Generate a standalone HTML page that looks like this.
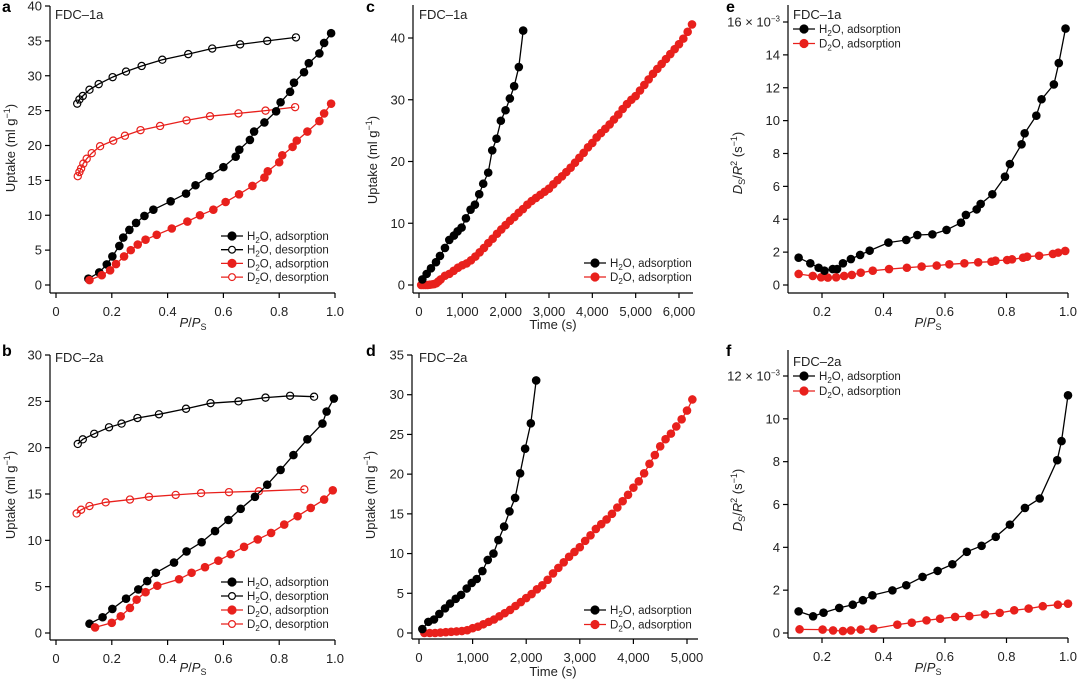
<!DOCTYPE html>
<html><head><meta charset="utf-8">
<style>
html,body{margin:0;padding:0;background:#fff;}
svg{display:block;font-family:"Liberation Sans",Arial,sans-serif;}
</style></head>
<body>
<svg id="fig" width="1080" height="683" viewBox="0 0 1080 683" xmlns="http://www.w3.org/2000/svg"></svg>
<script>
// ---- Panel a data (FDC-1a isotherm) ----
const aH2OadsX=[.116,.155,.182,.202,.227,.241,.263,.287,.317,.349,.411,.466,.5,.55,.6,.644,.657,.695,.71,.747,.789,.805,.839,.853,.889,.906,.944,.961,.986];
const aH2OadsY=[.9,1.8,2.95,4.1,5.6,6.8,7.9,8.9,9.9,10.8,12.0,13.1,14.3,15.6,16.9,18.4,19.4,20.8,22.0,23.3,24.9,26.2,27.7,29.0,30.5,31.8,33.2,34.7,36.1];
const aH2OdesX=[.076,.084,.096,.12,.153,.203,.251,.307,.381,.474,.56,.66,.757,.86];
const aH2OdesY=[26.0,26.6,27.1,28.0,28.8,29.8,30.6,31.4,32.3,33.1,33.9,34.5,35.0,35.5];
const aD2OadsX=[.12,.164,.194,.215,.244,.268,.293,.321,.361,.415,.471,.516,.564,.608,.656,.704,.747,.759,.8,.811,.848,.863,.901,.944,.961,.986];
const aD2OadsY=[.7,1.4,2.1,3.0,4.1,5.0,5.8,6.5,7.2,8.1,9.1,10.0,10.8,11.9,13.0,14.2,15.4,16.3,17.6,18.6,19.8,20.7,22.0,23.5,24.6,26.0];
const aD2OdesX=[.078,.084,.09,.098,.11,.128,.158,.205,.247,.303,.373,.468,.552,.654,.751,.857];
const aD2OdesY=[15.6,16.2,16.7,17.4,18.1,18.9,19.9,20.7,21.4,22.2,22.8,23.6,24.2,24.6,25.0,25.5];
// ---- Panel b data (FDC-2a isotherm) ----
const bH2OadsX=[.12,.167,.202,.251,.295,.327,.358,.423,.468,.522,.57,.618,.662,.713,.757,.805,.851,.901,.955,.97,.996];
const bH2OadsY=[1.0,1.7,2.6,3.7,4.7,5.6,6.5,7.6,8.8,9.8,11.0,12.2,13.4,14.7,16.0,17.6,19.2,20.9,22.6,23.9,25.3];
const bH2OdesX=[.078,.096,.137,.19,.235,.292,.369,.466,.554,.654,.751,.839,.925];
const bH2OdesY=[20.4,20.9,21.5,22.2,22.6,23.2,23.6,24.2,24.8,25.0,25.4,25.6,25.5];
const bD2OadsX=[.14,.2,.232,.265,.289,.321,.363,.441,.486,.534,.582,.626,.674,.723,.771,.818,.866,.913,.961,.992];
const bD2OadsY=[.6,1.1,1.8,2.7,3.6,4.4,5.1,5.8,6.5,7.1,7.8,8.5,9.3,10.1,10.8,11.7,12.6,13.5,14.4,15.4];
const bD2OdesX=[.074,.09,.12,.178,.265,.333,.429,.52,.62,.727,.89];
const bD2OdesY=[12.9,13.3,13.7,14.1,14.4,14.7,14.9,15.1,15.2,15.3,15.5];
// ---- Panel c data (FDC-1a kinetics) ----
const cH2OT=[77,177,276,392,484,599,699,806,891,983,1083,1190,1290,1390,1482,1597,1690,1789,1889,1997,2097,2196,2304,2404];
const cH2OU=[.9,1.8,2.7,3.7,4.7,6.0,7.3,8.0,8.7,9.3,10.8,12.2,13.0,14.7,16.4,18.2,21.8,23.7,26.6,28.3,30.2,32.2,35.3,41.2];
const cD2OT=[50,100,150,200,250,300,350,400,450,500,600,700,800,900,1000,1100,1200,1300,1400,1500,1600,1700,1800,1900,2000,2100,2200,2300,2400,2500,2600,2700,2800,2900,3000,3100,3200,3300,3400,3500,3600,3700,3800,3900,4000,4100,4200,4300,4400,4500,4600,4700,4800,4900,5000,5100,5200,5300,5400,5500,5600,5700,5800,5900,6000,6100,6200,6300];
const cD2OU=[0,0,0,0,0.05,0.1,0.15,0.3,0.6,0.9,1.5,1.8,2.3,2.8,3.2,3.5,4.0,4.6,5.3,6.0,6.8,7.5,8.3,9.0,9.7,10.4,11.0,11.7,12.3,13.0,13.6,14.1,14.6,15.1,15.6,16.3,17.0,17.6,18.3,19.0,19.8,20.6,21.4,22.3,23.0,23.9,24.6,25.3,26.0,26.8,27.6,28.5,29.3,30.0,30.6,31.5,32.4,33.3,34.2,35.0,35.8,36.6,37.4,38.2,39.0,39.9,41.0,42.2];
// ---- Panel d data (FDC-2a kinetics) ----
const dH2OT=[62,174,280,380,486,579,685,785,890,984,1077,1183,1283,1389,1482,1588,1688,1793,1887,1980,2086,2186];
const dH2OU=[.5,1.4,1.7,2.4,3.1,3.7,4.3,4.8,5.6,6.3,6.8,7.8,9.2,10.0,11.7,13.4,15.3,17.0,20.1,23.2,26.4,31.8];
const dD2OT=[100,200,300,400,500,600,700,800,900,1000,1100,1200,1300,1400,1500,1600,1700,1800,1900,2000,2100,2200,2300,2400,2500,2600,2700,2800,2900,3000,3100,3200,3300,3400,3500,3600,3700,3800,3900,4000,4100,4200,4300,4400,4500,4600,4700,4800,4900,5000,5100];
const dD2OU=[0,0,0,.05,.1,.15,.2,.25,.35,.6,.8,1.1,1.4,1.7,2.1,2.5,2.9,3.4,3.9,4.4,4.9,5.5,6.0,6.7,7.5,8.2,8.9,9.6,10.2,10.8,11.6,12.3,13.1,13.7,14.3,15.0,15.8,16.6,17.4,18.3,19.1,20.1,21.3,22.4,23.5,24.4,25.1,26.0,26.9,28.0,29.4];
// ---- Panel e data (FDC-1a diffusivity, x10^-3) ----
const eH2OX=[.124,.162,.189,.208,.235,.249,.268,.294,.324,.355,.416,.474,.51,.559,.605,.652,.668,.703,.716,.754,.795,.811,.849,.859,.897,.914,.954,.97,.992];
const eH2OY=[1.66,1.32,1.05,.87,.97,.97,1.32,1.58,1.83,2.09,2.58,2.74,3.04,3.08,3.35,3.79,4.26,4.6,4.93,5.52,6.59,7.36,8.56,9.23,10.3,11.3,12.2,13.5,15.6];
const eD2OX=[.124,.17,.197,.219,.246,.272,.297,.326,.365,.418,.476,.524,.573,.614,.663,.708,.751,.764,.802,.818,.854,.867,.906,.951,.968,.991];
const eD2OY=[.67,.55,.47,.45,.47,.55,.61,.75,.87,.97,1.05,1.12,1.18,1.26,1.32,1.38,1.42,1.48,1.52,1.56,1.66,1.72,1.78,1.89,1.97,2.07];
// ---- Panel f data (FDC-2a diffusivity, x10^-3) ----
const fH2OX=[.124,.171,.205,.256,.3,.333,.364,.429,.474,.527,.576,.624,.671,.719,.765,.811,.86,.908,.965,.979,1.0];
const fH2OY=[1.01,.78,.95,1.17,1.32,1.53,1.76,1.99,2.23,2.62,2.9,3.21,3.79,4.07,4.49,5.06,5.84,6.28,8.07,8.96,11.1];
const fD2OX=[.127,.202,.236,.268,.294,.326,.367,.445,.492,.54,.584,.633,.679,.73,.778,.825,.872,.918,.967,1.0];
const fD2OY=[.17,.16,.12,.09,.12,.16,.2,.39,.48,.59,.67,.75,.79,.87,.94,1.06,1.14,1.25,1.32,1.37];
// tick labels
const isoXTicks=[0,0.2,0.4,0.6,0.8,1.0];
const isoXLabels=["0","0.2","0.4","0.6","0.8","1.0"];
const aYTicks=[0,5,10,15,20,25,30,35,40];
const bYTicks=[0,5,10,15,20,25,30];
const cXTicks=[0,1000,2000,3000,4000,5000,6000];
const cXLabels=["0","1,000","2,000","3,000","4,000","5,000","6,000"];
const cYTicks=[0,10,20,30,40];
const dXTicks=[0,1000,2000,3000,4000,5000];
const dXLabels=["0","1,000","2,000","3,000","4,000","5,000"];
const dYTicks=[0,5,10,15,20,25,30,35];
const efXTicks=[0.2,0.4,0.6,0.8,1.0];
const efXLabels=["0.2","0.4","0.6","0.8","1.0"];
const eYTicks=[0,2,4,6,8,10,12,14,16];
const fYTicks=[0,2,4,6,8,10,12];

const NS="http://www.w3.org/2000/svg";
const svg=document.getElementById('fig');
function mk(tag,attrs,parent){const e=document.createElementNS(NS,tag);for(const k in attrs)e.setAttribute(k,attrs[k]);(parent||svg).appendChild(e);return e;}
function lin(d0,d1,r0,r1){return v=>r0+(v-d0)*(r1-r0)/(d1-d0);}
const RED="#e8201c";

function axes(p){
  const g=mk('g',{});
  
  
  const yl=mk('line',{x1:p.ax,y1:p.ayTop,x2:p.ax,y2:p.axY,stroke:'#000','stroke-width':1.2},g);
  
  
  const xl=mk('line',{x1:p.ax,y1:p.axY,x2:p.axRight,y2:p.axY,stroke:'#000','stroke-width':1.2},g);
  
  
  p.yTicks.forEach((v,i)=>{
    const y=p.sy(v);
    const t=mk('line',{x1:p.ax-5,y1:y,x2:p.ax,y2:y,stroke:'#000','stroke-width':1.2},g);
    
    
    const lbl=(p.yTopLabel&&i===p.yTicks.length-1)?p.yTopLabel:String(v);
    const tx=mk('text',{x:p.ax-8,y:y+4.5,'text-anchor':'end','font-size':13,fill:'#222'},g);
    tx.innerHTML=lbl;
    
    
  });
  p.xTicks.forEach((v,i)=>{
    const x=p.sx(v);
    const t=mk('line',{x1:x,y1:p.axY,x2:x,y2:p.axY+5,stroke:'#000','stroke-width':1.2},g);
    
    
    const tx=mk('text',{x:x,y:p.axY+23,'text-anchor':'middle','font-size':13,fill:'#222'},g);
    tx.textContent=p.xLabels[i];
    
    
  });
}
function series(p,xs,ys,color,open,name){
  const g=mk('g',{});
  
  
  const pts=xs.map((x,i)=>p.sx(x).toFixed(1)+','+p.sy(ys[i]).toFixed(1)).join(' ');
  const pl=mk('polyline',{points:pts,fill:'none',stroke:color,'stroke-width':1.3},g);
  
  
  xs.forEach((x,i)=>{
    const c=mk('circle',{cx:p.sx(x),cy:p.sy(ys[i]),r:open?3.6:4.3,fill:open?'none':color,stroke:color,'stroke-width':open?1.2:0},g);
    
    
  });
}
function legend(x,y,items){
  items.forEach((it,i)=>{
    const yy=y+i*it.dy;
    const g=mk('g',{});
    
    
    mk('line',{x1:x,y1:yy,x2:x+22,y2:yy,stroke:it.c,'stroke-width':1.3},g);
    mk('circle',{cx:x+11,cy:yy,r:it.open?3.4:4,fill:it.open?'#fff':it.c,stroke:it.c,'stroke-width':1.2},g);
    const t=mk('text',{x:x+26,y:yy+4,'font-size':11.5,fill:'#222'},g);
    t.innerHTML=it.t;
  });
}
function text(x,y,s,opts,name){
  const t=mk('text',Object.assign({x:x,y:y,'font-size':13,fill:'#222'},opts||{}));
  t.innerHTML=s;
  
  
  return t;
}
const H2O='H<tspan font-size="8" dy="3">2</tspan><tspan dy="-3">O, </tspan>';
const D2O='D<tspan font-size="8" dy="3">2</tspan><tspan dy="-3">O, </tspan>';

// Panel a
const pa={id:'panel-a',ax:50,ayTop:6,axY:293,axRight:335,sx:lin(0,1,56,335),sy:lin(0,40,285,6),xTicks:isoXTicks,xLabels:isoXLabels,yTicks:aYTicks};
axes(pa);
series(pa,aH2OdesX,aH2OdesY,'#000',true,'a-h2o-desorption');
series(pa,aD2OdesX,aD2OdesY,RED,true,'a-d2o-desorption');
series(pa,aH2OadsX,aH2OadsY,'#000',false,'a-h2o-adsorption');
series(pa,aD2OadsX,aD2OadsY,RED,false,'a-d2o-adsorption');
legend(221,236,[{c:'#000',t:H2O+'adsorption',dy:13.7},{c:'#000',open:1,t:H2O+'desorption',dy:13.7},{c:RED,t:D2O+'adsorption',dy:13.7},{c:RED,open:1,t:D2O+'desorption',dy:13.7}]);
// Panel b
const pb={id:'panel-b',ax:50,ayTop:355,axY:640,axRight:335,sx:lin(0,1,56,335),sy:lin(0,30,633,355),xTicks:isoXTicks,xLabels:isoXLabels,yTicks:bYTicks};
axes(pb);
series(pb,bH2OdesX,bH2OdesY,'#000',true,'b-h2o-desorption');
series(pb,bD2OdesX,bD2OdesY,RED,true,'b-d2o-desorption');
series(pb,bH2OadsX,bH2OadsY,'#000',false,'b-h2o-adsorption');
series(pb,bD2OadsX,bD2OadsY,RED,false,'b-d2o-adsorption');
legend(221,582,[{c:'#000',t:H2O+'adsorption',dy:14},{c:'#000',open:1,t:H2O+'desorption',dy:14},{c:RED,t:D2O+'adsorption',dy:14},{c:RED,open:1,t:D2O+'desorption',dy:14}]);
// Panel c
const pc={id:'panel-c',ax:413,ayTop:5,axY:293,axRight:693,sx:lin(0,6000,419,679),sy:lin(0,40,285,38),xTicks:cXTicks,xLabels:cXLabels,yTicks:cYTicks};
axes(pc);
series(pc,cD2OT,cD2OU,RED,false,'c-d2o-adsorption');
series(pc,cH2OT,cH2OU,'#000',false,'c-h2o-adsorption');
legend(584,263,[{c:'#000',t:H2O+'adsorption',dy:14},{c:RED,t:D2O+'adsorption',dy:14}]);
// Panel d
const pd={id:'panel-d',ax:412,ayTop:355,axY:639,axRight:698,sx:lin(0,5000,419,687),sy:lin(0,35,633,355),xTicks:dXTicks,xLabels:dXLabels,yTicks:dYTicks};
axes(pd);
series(pd,dD2OT,dD2OU,RED,false,'d-d2o-adsorption');
series(pd,dH2OT,dH2OU,'#000',false,'d-h2o-adsorption');
legend(584,610,[{c:'#000',t:H2O+'adsorption',dy:14.5},{c:RED,t:D2O+'adsorption',dy:14.5}]);
// Panel e
const pe={id:'panel-e',ax:788,ayTop:5,axY:293,axRight:1068,sx:lin(0.2,1.0,822,1068),sy:lin(0,16,285,22),xTicks:efXTicks,xLabels:efXLabels,yTicks:eYTicks,yTopLabel:'16 × 10<tspan font-size="8" dy="-5">−3</tspan>'};
axes(pe);
series(pe,eD2OX,eD2OY,RED,false,'e-d2o-adsorption');
series(pe,eH2OX,eH2OY,'#000',false,'e-h2o-adsorption');
legend(793,29,[{c:'#000',t:H2O+'adsorption',dy:14.5},{c:RED,t:D2O+'adsorption',dy:14.5}]);
// Panel f
const pf={id:'panel-f',ax:788,ayTop:350,axY:638,axRight:1068,sx:lin(0.2,1.0,822,1068),sy:lin(0,12,633,376),xTicks:efXTicks,xLabels:efXLabels,yTicks:fYTicks,yTopLabel:'12 × 10<tspan font-size="8" dy="-5">−3</tspan>'};
axes(pf);
series(pf,fD2OX,fD2OY,RED,false,'f-d2o-adsorption');
series(pf,fH2OX,fH2OY,'#000',false,'f-h2o-adsorption');
legend(793,376,[{c:'#000',t:H2O+'adsorption',dy:15},{c:RED,t:D2O+'adsorption',dy:15}]);

// Panel letters & titles
[['a',2,12],['b',2,356],['c',366,12],['d',366,356],['e',726,12],['f',726,356]].forEach(l=>{
  text(l[1],l[2],l[0],{'font-weight':'bold','font-size':16,fill:'#000'},'panel-letter-'+l[0]);
});
text(55,19,'FDC–1a',{'font-size':13},'panel-a-title');
text(55,362,'FDC–2a',{'font-size':13},'panel-b-title');
text(419,19,'FDC–1a',{'font-size':13},'panel-c-title');
text(419,362,'FDC–2a',{'font-size':13},'panel-d-title');
text(793,19,'FDC–1a',{'font-size':13},'panel-e-title');
text(793,366,'FDC–2a',{'font-size':13},'panel-f-title');
// axis titles
const ptitle='<tspan font-style="italic">P</tspan>/<tspan font-style="italic">P</tspan><tspan font-size="9" dy="3">S</tspan>';
text(193,327,ptitle,{'text-anchor':'middle'},'x-axis-title-a');
text(193,672,ptitle,{'text-anchor':'middle'},'x-axis-title-b');
text(553,329,'Time (s)',{'text-anchor':'middle'},'x-axis-title-c');
text(553,676,'Time (s)',{'text-anchor':'middle'},'x-axis-title-d');
text(928,327,ptitle,{'text-anchor':'middle'},'x-axis-title-e');
text(928,672,ptitle,{'text-anchor':'middle'},'x-axis-title-f');
const upt='Uptake (ml g<tspan font-size="9" dy="-5">−1</tspan><tspan dy="5">)</tspan>';
text(0,0,upt,{'text-anchor':'middle',transform:'translate(15,148) rotate(-90)'},'y-axis-title-a');
text(0,0,upt,{'text-anchor':'middle',transform:'translate(15,495) rotate(-90)'},'y-axis-title-b');
text(0,0,upt,{'text-anchor':'middle',transform:'translate(377,160) rotate(-90)'},'y-axis-title-c');
text(0,0,upt,{'text-anchor':'middle',transform:'translate(375,495) rotate(-90)'},'y-axis-title-d');
const dst='<tspan font-style="italic">D</tspan><tspan font-size="9" dy="3">S</tspan><tspan dy="-3">/</tspan><tspan font-style="italic">R</tspan><tspan font-size="9" dy="-5">2</tspan><tspan dy="5"> (s</tspan><tspan font-size="9" dy="-5">−1</tspan><tspan dy="5">)</tspan>';
text(0,0,dst,{'text-anchor':'middle',transform:'translate(742,163) rotate(-90)'},'y-axis-title-e');
text(0,0,dst,{'text-anchor':'middle',transform:'translate(742,500) rotate(-90)'},'y-axis-title-f');
</script>
</body></html>
